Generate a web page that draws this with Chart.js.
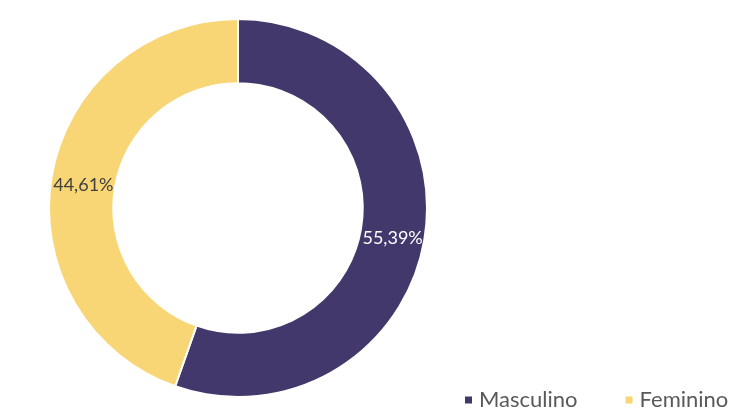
<!DOCTYPE html>
<html lang="pt">
<head>
	<meta charset="UTF-8">
	<title>Sexo</title>
	<style>
	*{
		margin: 0;
		padding: 0;
		box-sizing: border-box;
	}
	body{
		background: #fff;
	}
	.chartbox{
		width: 737px;
		height: 414px;
	}
	</style>
</head>
<body>
	<div class="chartbox">
		<canvas id="myChart" width="737" height="414"></canvas>
	</div>

<script src="https://cdn.jsdelivr.net/npm/chart.js"></script>

<script>
	const categories = ['Masculino', 'Feminino'];
	const percentValues = [55.39, 44.61];
	const sliceColors = ['#43386b', '#f8d676'];

	// percentage text in the middle of each ring segment
	const sliceLabels = {
		id: 'sliceLabels',
		afterDatasetsDraw(chart){
			const ctx = chart.ctx;
			const meta = chart.getDatasetMeta(0);
			ctx.save();
			ctx.font = '18px Lato';
			ctx.textAlign = 'center';
			ctx.textBaseline = 'middle';
			meta.data.forEach((arc, i) => {
				const pos = arc.tooltipPosition();
				ctx.fillStyle = i === 0 ? '#ffffff' : '#404040';
				const txt = percentValues[i].toFixed(2).replace('.', ',') + '%';
				ctx.fillText(txt, pos.x, pos.y + 4);
			});
			ctx.restore();
		}
	};

	// small square legend in the lower right corner
	const cornerLegend = {
		id: 'cornerLegend',
		afterDraw(chart, args, opts){
			const ctx = chart.ctx;
			ctx.save();
			ctx.font = opts.font;
			ctx.textBaseline = 'middle';
			let x = opts.x;
			chart.data.labels.forEach((label, i) => {
				ctx.fillStyle = chart.data.datasets[0].backgroundColor[i];
				ctx.fillRect(x, opts.y - 3.5, 7, 7);
				x += 14;
				ctx.fillStyle = '#595959';
				ctx.fillText(label, x, opts.y);
				x += ctx.measureText(label).width + opts.gap;
			});
			ctx.restore();
		}
	};

	const data = {
		labels: categories,
		datasets: [{
			data: percentValues,
			backgroundColor: sliceColors,
			borderColor: '#ffffff',
			borderWidth: 2
		}]
	};

	const config = {
		type: 'doughnut',
		data,
		options: {
			responsive: false,
			animation: false,
			cutout: '66%',
			layout: {
				padding: {left: 48, right: 309, top: 18, bottom: 16}
			},
			plugins: {
				legend: {display: false},
				tooltip: {enabled: false},
				cornerLegend: {x: 465, y: 400, gap: 48, font: '22px Lato'}
			}
		},
		plugins: [sliceLabels, cornerLegend]
	};

	const myChart = new Chart(
		document.getElementById('myChart'),
		config
	);
</script>
</body>
</html>
